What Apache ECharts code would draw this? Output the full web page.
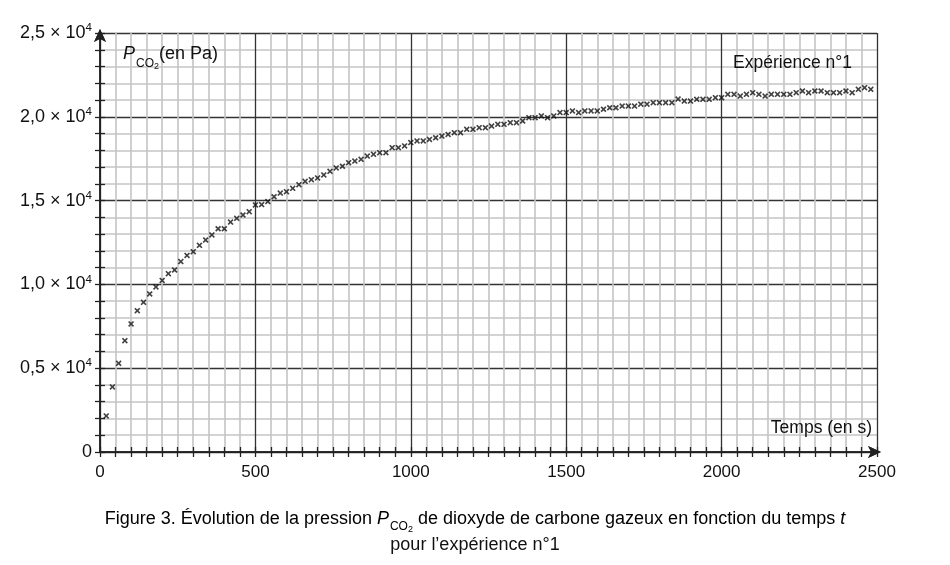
<!DOCTYPE html>
<html>
<head>
<meta charset="utf-8">
<script src="https://cdn.jsdelivr.net/npm/echarts@6/dist/echarts.min.js"></script>
<style>
  html, body { margin: 0; padding: 0; background: #fff; }
  #chart { width: 950px; height: 565px; }
</style>
</head>
<body>
<div id="chart"></div>
<script>
// temps (s) et pression P_CO2 (Pa)
var temps = [
  20, 40, 60, 80, 100, 120, 140, 160, 180, 200,
  220, 240, 260, 280, 300, 320, 340, 360, 380, 400,
  420, 440, 460, 480, 500, 520, 540, 560, 580, 600,
  620, 640, 660, 680, 700, 720, 740, 760, 780, 800,
  820, 840, 860, 880, 900, 920, 940, 960, 980, 1000,
  1020, 1040, 1060, 1080, 1100, 1120, 1140, 1160, 1180, 1200,
  1220, 1240, 1260, 1280, 1300, 1320, 1340, 1360, 1380, 1400,
  1420, 1440, 1460, 1480, 1500, 1520, 1540, 1560, 1580, 1600,
  1620, 1640, 1660, 1680, 1700, 1720, 1740, 1760, 1780, 1800,
  1820, 1840, 1860, 1880, 1900, 1920, 1940, 1960, 1980, 2000,
  2020, 2040, 2060, 2080, 2100, 2120, 2140, 2160, 2180, 2200,
  2220, 2240, 2260, 2280, 2300, 2320, 2340, 2360, 2380, 2400,
  2420, 2440, 2460, 2480
];
var pression = [
  2150, 3880, 5290, 6640, 7640, 8430, 8930, 9430, 9850, 10240,
  10640, 10860, 11360, 11730, 11950, 12330, 12650, 12950, 13320, 13320,
  13720, 13940, 14140, 14340, 14740, 14760, 14940, 15230, 15450, 15530,
  15730, 15950, 16150, 16250, 16350, 16530, 16750, 16950, 17050, 17260,
  17360, 17460, 17660, 17760, 17860, 17860, 18160, 18160, 18260, 18460,
  18560, 18560, 18650, 18750, 18850, 18950, 19050, 19050, 19250, 19250,
  19350, 19350, 19450, 19550, 19550, 19650, 19650, 19750, 19950, 19950,
  20050, 19950, 20050, 20250, 20250, 20350, 20250, 20350, 20350, 20350,
  20450, 20540, 20540, 20640, 20640, 20640, 20750, 20750, 20840, 20840,
  20840, 20840, 21060, 20940, 20940, 21040, 21040, 21040, 21140, 21140,
  21340, 21340, 21240, 21340, 21440, 21340, 21240, 21340, 21340, 21340,
  21340, 21440, 21540, 21440, 21540, 21540, 21440, 21440, 21440, 21540,
  21440, 21640, 21740, 21640
];
var yTicks = {0: '0', 5000: '0,5', 10000: '1,0', 15000: '1,5', 20000: '2,0', 25000: '2,5'};

var FONT = '"Liberation Sans", Arial, sans-serif';
var points = temps.map(function (t, i) { return [t, pression[i]]; });

var chart = echarts.init(document.getElementById('chart'));

var xBase = {
  type: 'value', min: 0, max: 2500, interval: 500,
  axisLine: { show: true, onZero: false, lineStyle: { color: '#222', width: 1.5 },
    symbol: ['none', 'arrow'], symbolSize: [9, 13], symbolOffset: [0, 4] },
  axisTick: { show: true, length: 5, lineStyle: { color: '#222', width: 1.3 } },
  minorTick: { show: true, splitNumber: 10, length: 5, lineStyle: { color: '#222', width: 1.3 } }
};
var yBase = {
  type: 'value', min: 0, max: 25000, interval: 5000,
  axisLine: { show: true, onZero: false, lineStyle: { color: '#222', width: 1.5 },
    symbol: ['none', 'arrow'], symbolSize: [9, 13], symbolOffset: [0, 4] },
  axisTick: { show: true, length: 5, lineStyle: { color: '#222', width: 1.3 } },
  minorTick: { show: true, splitNumber: 5, length: 5, lineStyle: { color: '#222', width: 1.3 } }
};

var option = {
  animation: false,
  backgroundColor: '#fff',
  grid: { left: 100, right: 73, top: 33, bottom: 113 },
  xAxis: [
    echarts.util.merge({
      position: 'bottom',
      axisLabel: { show: true, color: '#111', fontFamily: FONT, fontSize: 17, margin: 12,
        formatter: function (v) { return String(v); } },
      splitLine: { show: true, lineStyle: { color: '#333', width: 1.3 } },
      minorSplitLine: { show: true, lineStyle: { color: '#c4c4c4', width: 1.6 } }
    }, xBase, true),
    echarts.util.merge({
      position: 'bottom',
      axisLabel: { show: false },
      splitLine: { show: false },
      axisTick: { inside: true },
      minorTick: { show: true }
    }, xBase, true)
  ],
  yAxis: [
    echarts.util.merge({
      position: 'left',
      axisLabel: {
        show: true, color: '#111', margin: 8,
        formatter: function (v) {
          if (v === 0) return '{a|0}';
          return '{a|' + yTicks[v] + ' × 10}{s|4}';
        },
        rich: {
          a: { fontFamily: FONT, fontSize: 18, color: '#111', lineHeight: 22 },
          s: { fontFamily: FONT, fontSize: 11.5, color: '#111', verticalAlign: 'top', lineHeight: 11 }
        }
      },
      splitLine: { show: true, lineStyle: { color: '#333', width: 1.3 } },
      minorSplitLine: { show: true, lineStyle: { color: '#c4c4c4', width: 1.6 } }
    }, yBase, true),
    echarts.util.merge({
      position: 'left',
      axisLabel: { show: false },
      splitLine: { show: false },
      axisTick: { inside: true }
    }, yBase, true)
  ],
  series: [{
    type: 'scatter',
    xAxisIndex: 0,
    yAxisIndex: 0,
    data: points,
    symbol: 'path://M0,1.9 L1.9,0 L5,3.1 L8.1,0 L10,1.9 L6.9,5 L10,8.1 L8.1,10 L5,6.9 L1.9,10 L0,8.1 L3.1,5 Z',
    symbolSize: 6,
    itemStyle: { color: '#111' },
    z: 5
  }],
  graphic: [
    {
      type: 'text', left: 123, top: 45, z: 10,
      style: {
        text: '{p|P}{c|CO}{d|2}{n|(en Pa)}',
        rich: {
          p: { fontFamily: FONT, fontStyle: 'italic', fontSize: 18, color: '#111', lineHeight: 26, verticalAlign: 'top' },
          c: { fontFamily: FONT, fontSize: 12, color: '#111', lineHeight: 12, verticalAlign: 'bottom', padding: [0, 0, 1, 1] },
          d: { fontFamily: FONT, fontSize: 9, color: '#111', lineHeight: 9, verticalAlign: 'bottom' },
          n: { fontFamily: FONT, fontSize: 18, color: '#111', lineHeight: 26, verticalAlign: 'top' }
        },
        fill: '#111'
      }
    },
    {
      type: 'text', right: 98, top: 54, z: 10,
      style: { text: 'Expérience n°1', fontFamily: FONT, fontSize: 17.5, fill: '#111' }
    },
    {
      type: 'text', right: 78, top: 419, z: 10,
      style: { text: 'Temps (en s)', fontFamily: FONT, fontSize: 17.5, fill: '#111' }
    },
    {
      type: 'text', left: 'center', top: 510, z: 10,
      style: {
        text: '{a|Figure 3. Évolution de la pression }{i|P}{c|CO}{d|2}{a| de dioxyde de carbone gazeux en fonction du temps }{i|t}',
        rich: {
          a: { fontFamily: FONT, fontSize: 18, color: '#111', lineHeight: 24, verticalAlign: 'top' },
          i: { fontFamily: FONT, fontStyle: 'italic', fontSize: 18, color: '#111', lineHeight: 24, verticalAlign: 'top' },
          c: { fontFamily: FONT, fontSize: 12, color: '#111', lineHeight: 12, verticalAlign: 'bottom', padding: [0, 0, 1, 1] },
          d: { fontFamily: FONT, fontSize: 9, color: '#111', lineHeight: 9, verticalAlign: 'bottom' }
        }
      }
    },
    {
      type: 'text', left: 'center', top: 536, z: 10,
      style: { text: 'pour l’expérience n°1', fontFamily: FONT, fontSize: 18, fill: '#111' }
    }
  ]
};

chart.setOption(option);
window.addEventListener('resize', chart.resize);
</script>
</body>
</html>
